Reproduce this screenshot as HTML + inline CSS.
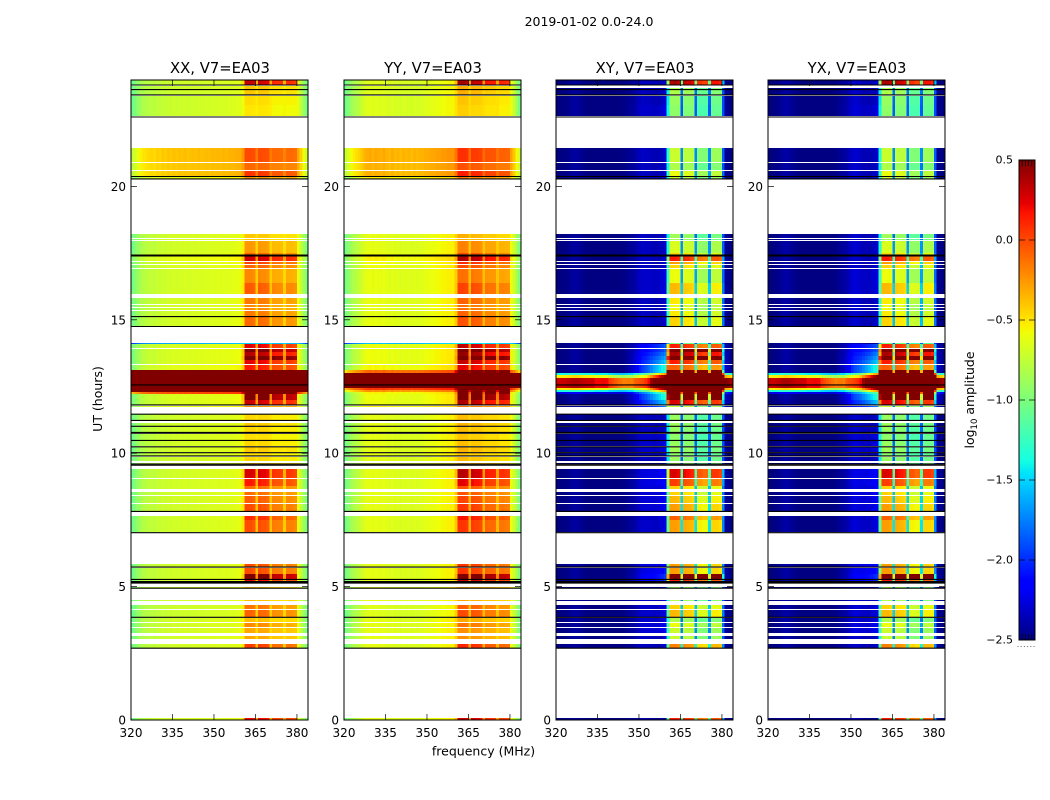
<!DOCTYPE html>
<html>
<head>
<meta charset="utf-8">
<title>2019-01-02 0.0-24.0</title>
<style>
html,body{margin:0;padding:0;background:#fff;width:1050px;height:800px;overflow:hidden}
svg{display:block}
text{font-family:"DejaVu Sans","Liberation Sans",sans-serif;fill:#000}
</style>
</head>
<body>
<svg id="figure" xmlns="http://www.w3.org/2000/svg" width="1050" height="800" viewBox="0 0 1050 800">
<rect width="1050" height="800" fill="#fff"/>
<text x="589" y="26" text-anchor="middle" font-size="12.5">2019-01-02 0.0-24.0</text>
<text x="483.5" y="755.5" text-anchor="middle" font-size="12.5">frequency (MHz)</text>
<text transform="translate(102,399) rotate(-90)" text-anchor="middle" font-size="12.5">UT (hours)</text>
<text transform="translate(974,400) rotate(-90)" text-anchor="middle" font-size="12.5">log<tspan font-size="8.5" dy="3">10</tspan><tspan dy="-3"> amplitude</tspan></text>
</svg>
<script>
// ---- chart data ----
const polarizations = ['XX', 'YY', 'XY', 'YX'];
const panelTitles = ['XX, V7=EA03', 'YY, V7=EA03', 'XY, V7=EA03', 'YX, V7=EA03'];
const freqTicks = [320, 335, 350, 365, 380];
const hourTicks = [0, 5, 10, 15, 20];
const colorbarTicks = [0.5, 0.0, -0.5, -1.0, -1.5, -2.0, -2.5];

// spectral baseline (log10 amplitude) per 1 MHz channel, 320..383
const baseXX = [-1.05,-1,-.92,-.86,-.82,-.8,-.78,-.76,-.78,-.74,-.76,-.72,-.74,-.71,-.73,-.7,-.72,-.7,-.71,-.69,-.71,-.7,-.69,-.7,-.68,-.7,-.69,-.68,-.69,-.67,-.68,-.67,-.68,-.66,-.67,-.66,-.66,-.65,-.64,-.64,-.6,-.6,-.6,-.6,-.6,-.55,-.6,-.6,-.6,-.6,-.55,-.65,-.65,-.65,-.65,-.58,-.65,-.65,-.65,-.65,-.62,-.75,-.9,-1];
const baseYY = [-1.05,-.98,-.9,-.84,-.8,-.77,-.72,-.66,-.64,-.62,-.66,-.62,-.64,-.66,-.62,-.66,-.68,-.64,-.68,-.66,-.69,-.66,-.68,-.66,-.69,-.66,-.68,-.66,-.66,-.64,-.64,-.62,-.62,-.6,-.6,-.58,-.58,-.56,-.56,-.56,-.5,-.52,-.52,-.52,-.52,-.5,-.55,-.55,-.55,-.55,-.5,-.58,-.58,-.58,-.58,-.52,-.62,-.62,-.62,-.62,-.6,-.72,-.88,-1];
const baseXY = [-2.5,-2.5,-2.49,-2.48,-2.46,-2.44,-2.42,-2.42,-2.44,-2.46,-2.48,-2.49,-2.5,-2.5,-2.5,-2.5,-2.49,-2.49,-2.5,-2.5,-2.5,-2.5,-2.5,-2.49,-2.48,-2.47,-2.46,-2.45,-2.43,-2.4,-2.38,-2.36,-2.38,-2.4,-2.42,-2.44,-2.46,-2.46,-2.44,-2.4,-1.6,-1,-1,-1,-1,-1.9,-1.05,-1.05,-1.05,-1.05,-1.9,-1.25,-1.25,-1.25,-1.25,-1.9,-1.15,-1.15,-1.15,-1.15,-1.95,-2.47,-2.49,-2.5];
const baseYX = [-2.5,-2.5,-2.49,-2.47,-2.44,-2.42,-2.4,-2.42,-2.44,-2.46,-2.48,-2.49,-2.5,-2.5,-2.5,-2.5,-2.49,-2.49,-2.5,-2.5,-2.5,-2.5,-2.5,-2.49,-2.48,-2.46,-2.45,-2.44,-2.41,-2.38,-2.35,-2.33,-2.36,-2.4,-2.42,-2.44,-2.46,-2.46,-2.44,-2.4,-1.6,-1,-1,-1,-1,-1.9,-1.05,-1.05,-1.05,-1.05,-1.9,-1.25,-1.25,-1.25,-1.25,-1.9,-1.15,-1.15,-1.15,-1.15,-1.95,-2.47,-2.49,-2.5];

// sub-band response per channel
const bandCo = [0,0,0,0,0,0,0,0,0,0,0,0,0,0,0,0,0,0,0,0,0,0,0,0,0,0,0,0,0,0,0,0,0,0,0,0,0,0,0,0,.1,.8,.8,.8,.76,.2,.8,.76,.76,.72,.2,.66,.64,.64,.62,.2,.64,.64,.62,.6,0,0,0,0];
const bandCross = [0,0,0,0,0,0,0,0,0,0,0,0,0,0,0,0,0,0,0,0,0,0,0,0,0,0,0,0,0,0,0,0,0,0,0,0,0,0,0,0,.5,1.15,1.15,1.15,1.1,.7,1.15,1.12,1.1,1.05,.7,1.1,1.1,1.05,1.05,.7,1.1,1.1,1.1,1.05,.3,0,0,0];
// weak spreading toward the band in cross-hands
const hazeCross = [0,0,0,0,0,0,0,0,0,0,0,0,0,0,0,0,0,0,0,0,0,0,0,0,0,.05,.1,.12,.2,.25,.35,.42,.5,.6,.7,.8,.9,1,1.05,1.1,1.1,0,0,0,0,0,0,0,0,0,0,0,0,0,0,0,0,0,0,0,.15,.15,.1,.05];
// strength of the broadband burst per channel
const burstCo = [3,3,3,3,3,3,3,3,3,3,3,3,3,3,3,3,3,3,3,3,3,3,3,3,3,3,3,3,3,3,3,3,3,3,3,3,3,3,3,3,3,3,3,3,3,3,3,3,3,3,3,3,3,3,3,3,3,3,3,3,3,3,3,3];
const burstCross = [2.8,2.8,2.8,2.8,2.8,2.8,2.8,2.8,2.8,2.8,2.8,2.8,2.8,2.8,2.7,2.7,2.7,2.7,2.7,2.55,2.5,2.45,2.4,2.35,2.3,2.25,2.2,2.15,2.15,2.1,2,1.95,1.95,2,2.15,2.25,2.35,2.45,2.55,2.65,2.75,2.95,2.95,2.95,2.95,2.55,2.95,2.95,2.95,2.95,2.55,2.95,2.95,2.95,2.95,2.55,2.95,2.95,2.95,2.95,2.85,2.85,2.85,2.85];

// time integrations, in UT hours
const rowTopHours = [24,23.76,23.69,23.61,23.39,23.05,21.44,20.88,20.58,20.35,18.22,18.03,17.95,17.49,17.39,17.17,17.05,16.9,16.38,15.82,15.55,15.44,15.33,15.1,14.13,14.09,13.91,13.79,13.64,13.49,13.31,13.12,13.01,12.93,12.82,12.56,12.44,12.37,12.29,12.22,11.99,11.77,11.47,11.23,11.13,10.98,10.72,10.46,10.23,10.01,9.86,9.63,9.41,9.03,8.77,8.55,8.4,8.1,7.65,7.5,5.85,5.7,5.47,5.25,5,4.5,4.31,4.12,3.82,3.64,3.45,3.15,2.85,.06];
const rowBottomHours = [23.8,23.69,23.65,23.43,23.05,22.62,20.91,20.61,20.39,20.28,18.07,17.99,17.52,17.43,17.2,17.09,16.94,16.38,15.97,15.59,15.48,15.37,15.14,14.77,14.09,13.94,13.79,13.64,13.49,13.34,13.12,13.01,12.93,12.82,12.56,12.44,12.37,12.29,12.22,11.99,11.81,11.73,11.24,11.19,11.02,10.79,10.49,10.27,10.04,9.9,9.71,9.6,9.07,8.77,8.66,8.43,8.13,7.83,7.5,7.05,5.73,5.47,5.28,5.17,4.95,4.46,4.16,3.86,3.67,3.49,3.26,3.04,2.7,0];
const rowContinuum = [0,0,0,0,0,0,.32,.3,.3,.1,.03,.03,.02,.05,.1,.05,.05,.03,.03,.03,.03,.03,.03,.03,-.9,.05,.05,.05,.05,.05,.08,.1,.1,.1,.1,.1,.1,.1,.1,.05,.05,.1,.02,.02,.02,.02,.02,.02,.02,.02,.02,.02,.02,.02,.02,.02,.02,.02,.02,.02,.02,.02,.02,.02,.02,.02,0,0,.02,.02,.02,.02,.02,.02];
const rowBand = [1.1,.4,.4,.4,.3,.25,.5,.4,.6,.5,.35,.35,.55,.7,1,.8,.7,.6,.75,.65,.6,.6,.65,.7,0,1,1.3,1.1,1.4,1,.9,1.5,1.5,1.5,1.5,1.5,1.5,1.5,1.5,1.3,1.05,.5,.3,.3,.35,.3,.25,.3,.35,.25,.3,.4,1.05,.95,.7,.7,.75,.8,.9,.8,.8,.8,1.3,1,.4,.4,.7,.75,.4,.6,.5,.5,.85,1];
const rowHaze = [.1,.1,.1,.1,.1,.15,.1,.1,.1,.1,.1,.1,.1,.1,.1,.1,.1,.15,.15,.1,.1,.1,.1,.1,0,.5,.5,.6,.7,.8,1,1,1,1,1,1,1,1,1,1,.8,.6,.1,.1,.1,.1,.15,.15,.15,.1,.1,.1,.25,.25,.2,.2,.2,.2,.15,.15,.25,.3,.4,.4,.1,.1,.15,.15,.15,.2,.2,.1,.1,0];
// integrations blanked only in the cross-hand panels (index into the row arrays)
const crossBlankRows = [1];
// rows of the bright event (index into the row arrays) and their burst level
const burstRows = [31,32,33,34,35,36,37,38];
const burstLevelXX = [1,1,1,1,1,1,.9,.2];
const burstLevelYY = [.15,.5,1,1,1,.2,.1,0];
const burstLevelCross = [0,.4,.7,1,1,.7,.4,.1];
// black flagged integrations, in UT hours
const flagLineHours = [23.8,23.63,23.43,22.6,20.37,20.28,17.43,17.39,15.12,14.75,12.56,11.81,11.46,11.23,11.01,10.78,10.75,10.48,10.24,10.02,9.9,9.59,9.55,7.82,7.02,5.73,5.27,5.19,5.16,5.13,4.94,3.85,2.69];

// ---- axis functions ----
const NS = 'http://www.w3.org/2000/svg';
const svg = document.getElementById('figure');
const panelLefts = [131, 344, 556, 768];
const panelWidth = 177;
const MHZ_PX = panelWidth / 64;
const HOUR_PX = 26.68;
const CELL_VMIN = -2.5, CELL_VMAX = 0.5;
function xScale(left, mhz) { return left + (mhz - 320) * MHZ_PX; }
function yScale(hour) { return 720 - hour * HOUR_PX; }
function cbScale(v) { return 640 - (v - CELL_VMIN) / (CELL_VMAX - CELL_VMIN) * 480; }
function ramp(t, stops) {
  for (let k = 1; k < stops.length; k++) {
    if (t <= stops[k][0]) {
      const a = stops[k - 1], b = stops[k];
      return a[1] + (b[1] - a[1]) * (t - a[0]) / (b[0] - a[0]);
    }
  }
  return stops[stops.length - 1][1];
}
const jetR = [[0,0],[.35,0],[.66,1],[.89,1],[1,.5]];
const jetG = [[0,0],[.125,0],[.375,1],[.64,1],[.91,0],[1,0]];
const jetB = [[0,.5],[.11,1],[.34,1],[.65,0],[1,0]];
function jet(v) {
  const t = Math.max(0, Math.min(1, (v - CELL_VMIN) / (CELL_VMAX - CELL_VMIN)));
  const c = s => Math.round(255 * ramp(t, s));
  return 'rgb(' + c(jetR) + ',' + c(jetG) + ',' + c(jetB) + ')';
}
function mk(tag, attrs, parent) {
  const el = document.createElementNS(NS, tag);
  for (const k in attrs) el.setAttribute(k, attrs[k]);
  (parent || svg).appendChild(el);
  return el;
}
const baseByPol = { XX: baseXX, YY: baseYY, XY: baseXY, YX: baseYX };
function cellValue(pol, row, ch) {
  const co = pol === 'XX' || pol === 'YY';
  let v = baseByPol[pol][ch];
  if (co) {
    v += rowContinuum[row] + bandCo[ch] * Math.pow(rowBand[row], 1.5);
  } else {
    v += bandCross[ch] * rowBand[row] * rowBand[row] + hazeCross[ch] * rowHaze[row];
  }
  const b = burstRows.indexOf(row);
  if (b >= 0) {
    if (pol === 'XX') v += burstLevelXX[b] * burstCo[ch];
    else if (pol === 'YY') v += burstLevelYY[b] * burstCo[ch];
    else v += burstLevelCross[b] * burstCross[ch];
  }
  return v;
}

// ---- panels ----
const defs = mk('defs', {});
polarizations.forEach(function (pol, p) {
  const left = panelLefts[p];
  const right = left + panelWidth;
  const isCross = pol === 'XY' || pol === 'YX';
  const clip = mk('clipPath', { id: 'clip-' + pol }, defs);
  mk('rect', { x: left, y: 80, width: panelWidth, height: 640 }, clip);

  const panel = mk('g', {});
  
  

  const cells = mk('g', { 'clip-path': 'url(#clip-' + pol + ')', 'shape-rendering': 'crispEdges' }, panel);
  
  
  rowTopHours.forEach(function (top, r) {
    if (isCross && crossBlankRows.indexOf(r) >= 0) return;
    const y0 = Math.round(yScale(top)), y1 = Math.round(yScale(rowBottomHours[r]));
    for (let ch = 0; ch < 64; ch++) {
      const x0 = xScale(left, 320 + ch), x1 = xScale(left, 321 + ch);
      const cell = mk('rect', {
        x: x0.toFixed(2), y: y0,
        width: (x1 - x0 + 0.4).toFixed(2), height: Math.max(1, y1 - y0),
        fill: jet(cellValue(pol, r, ch))
      }, cells);
      
      
    }
  });

  flagLineHours.forEach(function (h) {
    const line = mk('line', { x1: left, x2: right, y1: yScale(h).toFixed(1), y2: yScale(h).toFixed(1), stroke: '#000', 'stroke-width': 1.1 }, panel);
    
    
  });

  const frame = mk('rect', { x: left, y: 80, width: panelWidth, height: 640, fill: 'none', stroke: '#000', 'stroke-width': 1 }, panel);
  
  

  freqTicks.forEach(function (f) {
    const x = xScale(left, f);
    const t1 = mk('line', { x1: x, x2: x, y1: 720, y2: 714, stroke: '#000', 'stroke-width': 0.7 }, panel);
    
    
    const t2 = mk('line', { x1: x, x2: x, y1: 80, y2: 86, stroke: '#000', 'stroke-width': 0.7 }, panel);
    
    
    const lab = mk('text', { x: x, y: 737, 'text-anchor': 'middle', 'font-size': 12 }, panel);
    lab.textContent = String(f);
    
    
  });
  hourTicks.forEach(function (h) {
    const y = yScale(h);
    const t1 = mk('line', { x1: left, x2: left + 6, y1: y, y2: y, stroke: '#000', 'stroke-width': 0.7 }, panel);
    
    
    const t2 = mk('line', { x1: right, x2: right - 6, y1: y, y2: y, stroke: '#000', 'stroke-width': 0.7 }, panel);
    
    
    const lab = mk('text', { x: left - 5, y: y + 4.5, 'text-anchor': 'end', 'font-size': 12 }, panel);
    lab.textContent = String(h);
    
    
  });
  const title = mk('text', { x: left + panelWidth / 2 + 0.5, y: 73, 'text-anchor': 'middle', 'font-size': 14.8 }, panel);
  title.textContent = panelTitles[p];
  
  
});

// ---- colorbar ----
const cb = mk('g', {});


const cbLeft = 1019, cbRight = 1035;
const cbRamp = mk('g', { 'shape-rendering': 'crispEdges' }, cb);


for (let k = 0; k < 240; k++) {
  const hi = CELL_VMIN + (CELL_VMAX - CELL_VMIN) * (k + 1) / 240;
  const lo = CELL_VMIN + (CELL_VMAX - CELL_VMIN) * k / 240;
  const s = mk('rect', { x: cbLeft, y: cbScale(hi), width: cbRight - cbLeft, height: cbScale(lo) - cbScale(hi) + 0.5, fill: jet((hi + lo) / 2) }, cbRamp);
  
  
}
const cbFrame = mk('rect', { x: cbLeft, y: 160, width: cbRight - cbLeft, height: 480, fill: 'none', stroke: '#000', 'stroke-width': 1 }, cb);


colorbarTicks.forEach(function (v) {
  const y = cbScale(v);
  const t1 = mk('line', { x1: cbLeft, x2: cbLeft + 6, y1: y, y2: y, stroke: '#000', 'stroke-width': 0.7 }, cb);
  
  
  const t2 = mk('line', { x1: cbRight, x2: cbRight - 6, y1: y, y2: y, stroke: '#000', 'stroke-width': 0.7 }, cb);
  
  
  const lab = mk('text', { x: 1013, y: y + 3.5, 'text-anchor': 'end', 'font-size': 11 }, cb);
  lab.textContent = (v < 0 ? '\u2212' : '') + Math.abs(v).toFixed(1);
  
  
});
for (let k = 0; k < 6; k++) {
  const x = cbLeft + (cbRight - cbLeft) * k / 5;
  const top = mk('line', { x1: x, x2: x, y1: 160, y2: 166, stroke: '#000', 'stroke-width': 0.7 }, cb);
  
  
  const bot = mk('line', { x1: x, x2: x, y1: 640, y2: 634, stroke: '#000', 'stroke-width': 0.7 }, cb);
  
  
  const dot = mk('rect', { x: x - 1.5, y: 646, width: 1, height: 1, fill: '#666' }, cb);
  
  
}
</script>
</body>
</html>
